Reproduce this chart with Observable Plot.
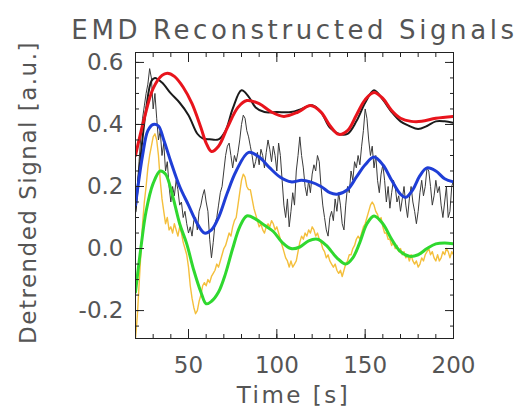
<!DOCTYPE html>
<html><head><meta charset="utf-8">
<script src="https://cdn.jsdelivr.net/npm/d3@7"></script>
<script src="https://cdn.jsdelivr.net/npm/@observablehq/plot@0.6"></script>
<style>body{margin:0;background:#fff}</style>
</head><body><div id="chart"></div>
<script>
// ---- data ----
const titleText = "EMD Reconstructed Signals";
const xLabel = "Time [s]";
const yLabel = "Detrended Signal [a.u.]";
const xMajorTicks = [50, 100, 150, 200];
const yMajorTicks = [-0.2, 0.0, 0.2, 0.4, 0.6];

// noisy series sampled every 1 s from t = 20 to 200
const noisyStart = 20;
const orangeNoisy = [-0.29,-0.22,-0.12,-0.02,0.08,0.15,0.2,0.26,0.3,0.33,0.36,0.37,0.35,0.30,0.22,0.16,0.12,0.08,0.10,0.06,
0.07,0.05,0.08,0.06,0.04,0.07,0.05,0.02,0.0,-0.02,-0.06,-0.12,-0.16,-0.19,-0.21,-0.2,-0.17,-0.15,-0.12,-0.11,
-0.12,-0.1,-0.11,-0.09,-0.08,-0.07,-0.05,-0.06,-0.04,-0.02,0.0,0.01,0.03,0.05,0.04,0.07,0.09,0.1,0.14,0.18,
0.22,0.24,0.23,0.2,0.19,0.19,0.16,0.13,0.11,0.09,0.07,0.08,0.06,0.05,0.07,0.08,0.07,0.09,0.08,0.06,
0.07,0.05,0.03,0.01,-0.01,-0.03,-0.04,-0.06,-0.04,-0.06,-0.05,-0.04,-0.01,0.02,0.04,0.03,0.05,0.04,0.06,0.05,
0.07,0.06,0.04,0.05,0.03,0.02,0.0,-0.01,-0.03,-0.02,-0.04,-0.05,-0.06,-0.05,-0.07,-0.08,-0.07,-0.09,-0.07,-0.05,
-0.04,-0.02,-0.02,0.0,0.01,0.03,0.04,0.03,0.05,0.07,0.08,0.10,0.12,0.14,0.15,0.14,0.12,0.11,0.09,0.1,
0.07,0.05,0.05,0.03,0.03,0.01,0.02,0.0,0.01,-0.01,0.0,-0.02,-0.01,-0.03,-0.02,-0.04,-0.02,-0.04,-0.05,-0.04,
-0.06,-0.05,-0.03,-0.04,-0.02,-0.01,0.0,-0.02,-0.01,-0.03,-0.04,-0.02,-0.04,-0.03,-0.01,-0.02,0.0,-0.01,-0.03,-0.01,-0.02];
const blackNoisy = [0.12,0.2,0.28,0.36,0.42,0.46,0.5,0.53,0.58,0.55,0.45,0.5,0.42,0.35,0.38,0.3,0.34,0.25,0.28,0.2,
0.15,0.2,0.17,0.22,0.19,0.14,0.15,0.1,0.12,0.08,0.05,0.07,0.04,0.09,0.1,0.06,0.12,0.14,0.17,0.19,
0.15,0.12,0.03,-0.03,0.02,0.08,0.1,0.14,0.18,0.2,0.25,0.3,0.33,0.34,0.3,0.26,0.3,0.28,0.31,0.35,
0.4,0.43,0.42,0.38,0.36,0.33,0.3,0.26,0.28,0.31,0.27,0.32,0.3,0.26,0.31,0.35,0.32,0.28,0.33,0.3,
0.25,0.34,0.3,0.22,0.14,0.1,0.16,0.07,0.12,0.18,0.14,0.25,0.3,0.36,0.3,0.26,0.2,0.17,0.22,0.18,
0.24,0.27,0.25,0.3,0.28,0.2,0.14,0.1,0.06,0.04,0.1,0.12,0.09,0.16,0.12,0.18,0.14,0.08,0.06,0.14,
0.2,0.18,0.25,0.22,0.28,0.26,0.3,0.27,0.33,0.38,0.45,0.42,0.35,0.3,0.33,0.26,0.3,0.22,0.18,0.24,
0.27,0.22,0.15,0.2,0.13,0.18,0.22,0.2,0.15,0.17,0.12,0.16,0.2,0.14,0.1,0.16,0.2,0.15,0.12,0.08,
0.12,0.18,0.22,0.17,0.2,0.26,0.25,0.2,0.14,0.17,0.22,0.18,0.2,0.14,0.1,0.15,0.2,0.1,0.12,0.2,0.22];

// smooth (reconstructed) series: time / value pairs
const blackSmoothT = [20,23,26,29,31,35,40,45,50,55,58,62,67,71,75,80,84,88,93,100,108,114,120,125,130,135,140,145,150,155,160,165,170,175,180,185,190,195,200];
const blackSmoothV = [0.12,0.3,0.45,0.54,0.55,0.535,0.5,0.47,0.43,0.37,0.355,0.352,0.352,0.38,0.45,0.51,0.49,0.455,0.44,0.44,0.44,0.45,0.462,0.44,0.39,0.37,0.37,0.41,0.47,0.51,0.48,0.44,0.41,0.395,0.385,0.395,0.41,0.41,0.405];
const redT = [20,25,30,35,38,42,47,52,57,60,63,67,72,78,83,90,97,104,112,119,125,130,135,140,145,150,155,160,165,170,176,182,190,200];
const redV = [0.30,0.42,0.516,0.558,0.565,0.555,0.52,0.467,0.39,0.34,0.313,0.33,0.39,0.455,0.477,0.467,0.44,0.426,0.44,0.461,0.44,0.397,0.368,0.38,0.43,0.48,0.503,0.484,0.445,0.42,0.41,0.41,0.42,0.426];
const blueT = [20,24,27,30,33,36,40,45,50,55,59,63,67,72,77,84,90,96,102,108,114,119,125,130,134,140,145,150,155,160,165,170,173,177,181,185,190,195,200];
const blueV = [0.14,0.3,0.38,0.40,0.395,0.35,0.28,0.2,0.14,0.08,0.05,0.06,0.1,0.18,0.25,0.31,0.295,0.26,0.23,0.215,0.22,0.215,0.2,0.18,0.175,0.19,0.23,0.27,0.295,0.27,0.22,0.175,0.165,0.19,0.235,0.26,0.25,0.225,0.215];
const greenT = [20,23,26,30,34,37,41,45,49,53,57,60,63,67,71,75,79,83,88,93,98,103,108,113,118,123,128,134,139,143,147,151,155,160,165,170,175,180,185,190,195,200];
const greenV = [-0.14,0.0,0.12,0.21,0.25,0.24,0.17,0.08,0.015,-0.07,-0.14,-0.178,-0.17,-0.14,-0.08,0.0,0.07,0.105,0.095,0.075,0.055,0.02,0.0,0.005,0.025,0.03,0.01,-0.03,-0.05,-0.03,0.02,0.08,0.105,0.08,0.03,-0.01,-0.025,-0.02,0.0,0.015,0.018,0.015];

// ---- build tables ----
const noisy = arr => arr.map((v, i) => ({t: noisyStart + i, v}));
const pairs = (T, V) => T.map((t, i) => ({t, v: V[i]}));
const xMinor = d3.range(20, 201, 10);
const yMinor = d3.range(-25, 61, 5).map(d => d / 100);

const font = "DejaVu Sans, Liberation Sans, sans-serif";
const tc = "#555";
const tickAx = (f, o) => f({...o, text: null, label: null, stroke: "#222"});

const chart = Plot.plot({
  width: 526, height: 419,
  marginLeft: 135, marginRight: 73, marginTop: 52, marginBottom: 81,
  style: {fontFamily: font, background: "#fff"},
  x: {domain: [20, 200], axis: null},
  y: {domain: [-0.29, 0.632], axis: null},
  marks: [
    Plot.line(noisy(orangeNoisy), {x: "t", y: "v", stroke: "#f4bf3c", strokeWidth: 1.4, clip: true}),
    Plot.line(noisy(blackNoisy), {x: "t", y: "v", stroke: "#3a3a3a", strokeWidth: 1, clip: true}),
    Plot.line(pairs(blackSmoothT, blackSmoothV), {x: "t", y: "v", stroke: "#1b1b1b", strokeWidth: 2, curve: "catmull-rom", clip: true}),
    Plot.line(pairs(redT, redV), {x: "t", y: "v", stroke: "#e8141c", strokeWidth: 3, curve: "catmull-rom", clip: true}),
    Plot.line(pairs(blueT, blueV), {x: "t", y: "v", stroke: "#1f3ed6", strokeWidth: 3, curve: "catmull-rom", clip: true}),
    Plot.line(pairs(greenT, greenV), {x: "t", y: "v", stroke: "#2fd82f", strokeWidth: 3, curve: "catmull-rom", clip: true}),
    Plot.frame({stroke: "#222", strokeWidth: 1}),
    // inward ticks on all four sides
    tickAx(Plot.axisX, {anchor: "bottom", ticks: xMinor, tickSize: -4}),
    tickAx(Plot.axisX, {anchor: "bottom", ticks: xMajorTicks, tickSize: -9}),
    tickAx(Plot.axisX, {anchor: "top", ticks: xMinor, tickSize: -4}),
    tickAx(Plot.axisX, {anchor: "top", ticks: xMajorTicks, tickSize: -9}),
    tickAx(Plot.axisY, {anchor: "left", ticks: yMinor, tickSize: -4}),
    tickAx(Plot.axisY, {anchor: "left", ticks: yMajorTicks, tickSize: -9}),
    tickAx(Plot.axisY, {anchor: "right", ticks: yMinor, tickSize: -4}),
    tickAx(Plot.axisY, {anchor: "right", ticks: yMajorTicks, tickSize: -9}),
    // tick labels
    Plot.axisX({anchor: "bottom", ticks: xMajorTicks, tickSize: 0, tickPadding: 18, fontSize: 23, fill: tc, label: null, tickFormat: d3.format("d")}),
    Plot.axisY({anchor: "left", ticks: yMajorTicks, tickSize: 0, tickPadding: 12, fontSize: 23, fill: tc, label: null, tickFormat: d => d3.format(".1f")(d).replace("−", "-")}),
    // titles
    Plot.text([titleText], {frameAnchor: "top", dy: -32, dx: 0, fontSize: 26, fill: tc, textAnchor: "middle"}),
    Plot.text([xLabel], {frameAnchor: "bottom", dy: 64, dx: -1, fontSize: 23, fill: tc, textAnchor: "middle"}),
    Plot.text([yLabel], {frameAnchor: "left", dx: -107, dy: -3, rotate: -90, fontSize: 23, fill: tc, textAnchor: "middle"})
  ]
});
// wider letter spacing, as in the reference's plotting font
const spacing = {[titleText]: "3.6px", [xLabel]: "2.5px", [yLabel]: "1.5px"};
d3.select(chart).selectAll("text").each(function() {
  const s = spacing[this.textContent];
  if (s) this.setAttribute("letter-spacing", s);
});
document.getElementById("chart").append(chart);
</script>
</body></html>
